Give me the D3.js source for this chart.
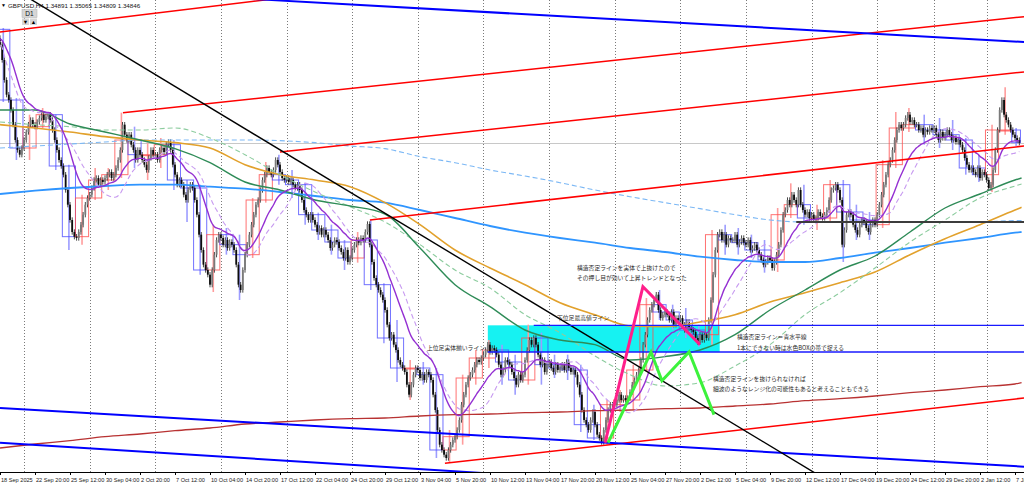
<!DOCTYPE html>
<html>
<head>
<meta charset="utf-8">
<script src="https://cdn.jsdelivr.net/npm/d3@7"></script>
<style>
  body { margin: 0; background: #fff; }
  svg { display: block; }
  text { font-family: "Liberation Sans", Arial, sans-serif; }
  .jp { font-family: "Noto Sans CJK JP", sans-serif; }
</style>
</head>
<body>
<div></div>
<script>
var outerWidth  = 1024;
var outerHeight = 486;
var plotBottom  = 472;
var barSpacing  = 2.1875;

// header of the chart window
var symbol  = "GBPUSD,H4";
var lastBar = ["1.34891", "1.35065", "1.34809", "1.34846"];
var bidPrice = 1.3485;
var firstOpen = 1.3655;

// trading days shown (H4 bars grouped by day)
var dayDates = [
  "2025-09-18","2025-09-19","2025-09-22","2025-09-23","2025-09-24","2025-09-25","2025-09-26","2025-09-29","2025-09-30",
  "2025-10-01","2025-10-02","2025-10-03","2025-10-06","2025-10-07","2025-10-08","2025-10-09","2025-10-10","2025-10-13",
  "2025-10-14","2025-10-15","2025-10-16","2025-10-17","2025-10-20","2025-10-21","2025-10-22","2025-10-23","2025-10-24",
  "2025-10-27","2025-10-28","2025-10-29","2025-10-30","2025-10-31",
  "2025-11-03","2025-11-04","2025-11-05","2025-11-06","2025-11-07","2025-11-10","2025-11-11","2025-11-12","2025-11-13",
  "2025-11-14","2025-11-17","2025-11-18","2025-11-19","2025-11-20","2025-11-21","2025-11-24","2025-11-25","2025-11-26",
  "2025-11-27","2025-11-28",
  "2025-12-01","2025-12-02","2025-12-03","2025-12-04","2025-12-05","2025-12-08","2025-12-09","2025-12-10","2025-12-11",
  "2025-12-12","2025-12-15","2025-12-16","2025-12-17","2025-12-18","2025-12-19","2025-12-22","2025-12-23","2025-12-24",
  "2025-12-26","2025-12-29","2025-12-30","2025-12-31",
  "2026-01-02","2026-01-05","2026-01-06","2026-01-07"
];

// H4 closes, one inner array per day
var closeSep = [
  [1.3642,1.3632,1.3609,1.3579,1.3557,1.3549],
  [1.3534,1.3512,1.3489,1.3474,1.3467,1.3477],
  [1.3489,1.3501,1.3512,1.3519,1.3512,1.3509],
  [1.3516,1.3522,1.3527,1.3519,1.3524,1.3527],
  [1.3519,1.3504,1.3489,1.3474,1.3459,1.3450],
  [1.3437,1.3414,1.3392,1.3369,1.3351,1.3344],
  [1.3342,1.3351,1.3362,1.3377,1.3392,1.3402],
  [1.3407,1.3417,1.3429,1.3432,1.3422,1.3429],
  [1.3426,1.3432,1.3437,1.3441,1.3432,1.3437]
];
var closeOct = [
  [1.3447,1.3459,1.3474,1.3512,1.3497,1.3489],
  [1.3497,1.3482,1.3474,1.3459,1.3474,1.3467],
  [1.3459,1.3452,1.3444,1.3462,1.3474,1.3467],
  [1.3467,1.3459,1.3474,1.3477,1.3471,1.3482],
  [1.3486,1.3474,1.3452,1.3437,1.3422,1.3429],
  [1.3422,1.3407,1.3399,1.3414,1.3422,1.3417],
  [1.3399,1.3377,1.3347,1.3324,1.3302,1.3294],
  [1.3287,1.3272,1.3294,1.3317,1.3339,1.3347],
  [1.3342,1.3332,1.3339,1.3327,1.3336,1.3332],
  [1.3324,1.3302,1.3272,1.3264,1.3294,1.3317],
  [1.3332,1.3347,1.3362,1.3377,1.3392,1.3399],
  [1.3414,1.3429,1.3437,1.3447,1.3441,1.3437],
  [1.3444,1.3459,1.3452,1.3441,1.3432,1.3429],
  [1.3432,1.3426,1.3429,1.3422,1.3417,1.3422],
  [1.3414,1.3399,1.3384,1.3377,1.3369,1.3377],
  [1.3369,1.3362,1.3351,1.3357,1.3347,1.3354],
  [1.3347,1.3339,1.3327,1.3332,1.3339,1.3336],
  [1.3327,1.3321,1.3312,1.3324,1.3306,1.3312],
  [1.3324,1.3332,1.3339,1.3335,1.3342,1.3339],
  [1.3351,1.3363,1.3332,1.3306,1.3282,1.3272],
  [1.3264,1.3257,1.3249,1.3234,1.3212,1.3192],
  [1.3197,1.3182,1.3174,1.3159,1.3152,1.3147],
  [1.3141,1.3122,1.3107,1.3122,1.3137,1.3147]
];
var closeNov = [
  [1.3144,1.3132,1.3137,1.3129,1.3141,1.3137],
  [1.3129,1.3107,1.3084,1.3054,1.3032,1.3024],
  [1.3017,1.3012,1.3024,1.3032,1.3039,1.3044],
  [1.3054,1.3069,1.3092,1.3107,1.3122,1.3132],
  [1.3137,1.3144,1.3152,1.3159,1.3156,1.3162],
  [1.3167,1.3174,1.3182,1.3171,1.3177,1.3174],
  [1.3167,1.3152,1.3137,1.3144,1.3159,1.3156],
  [1.3152,1.3141,1.3132,1.3122,1.3137,1.3129],
  [1.3137,1.3159,1.3174,1.3189,1.3182,1.3192],
  [1.3182,1.3167,1.3152,1.3159,1.3141,1.3152],
  [1.3156,1.3147,1.3141,1.3152,1.3144,1.3147],
  [1.3152,1.3144,1.3156,1.3147,1.3141,1.3144],
  [1.3137,1.3122,1.3107,1.3084,1.3069,1.3062],
  [1.3054,1.3069,1.3081,1.3062,1.3047,1.3042],
  [1.3036,1.3054,1.3069,1.3084,1.3092,1.3092],
  [1.3092,1.3099,1.3107,1.3099,1.3102,1.3099],
  [1.3102,1.3111,1.3122,1.3129,1.3137,1.3144],
  [1.3159,1.3182,1.3197,1.3219,1.3234,1.3242],
  [1.3249,1.3257,1.3234,1.3222,1.3227,1.3231],
  [1.3227,1.3219,1.3231,1.3212,1.3222,1.3219]
];
var closeDec = [
  [1.3222,1.3212,1.3204,1.3216,1.3207,1.3204],
  [1.3201,1.3192,1.3186,1.3197,1.3189,1.3197],
  [1.3192,1.3219,1.3249,1.3287,1.3324,1.3347],
  [1.3351,1.3339,1.3347,1.3332,1.3342,1.3339],
  [1.3339,1.3347,1.3332,1.3336,1.3342,1.3335],
  [1.3332,1.3339,1.3324,1.3327,1.3332,1.3324],
  [1.3317,1.3309,1.3302,1.3306,1.3312,1.3309],
  [1.3297,1.3306,1.3317,1.3332,1.3354,1.3377],
  [1.3384,1.3399,1.3392,1.3407,1.3399,1.3392],
  [1.3414,1.3392,1.3384,1.3377,1.3381,1.3372],
  [1.3377,1.3369,1.3372,1.3381,1.3375,1.3372],
  [1.3377,1.3384,1.3399,1.3414,1.3417,1.3422],
  [1.3414,1.3399,1.3332,1.3354,1.3377,1.3381],
  [1.3377,1.3362,1.3354,1.3347,1.3362,1.3369],
  [1.3366,1.3357,1.3351,1.3362,1.3369,1.3362],
  [1.3377,1.3392,1.3407,1.3422,1.3437,1.3452],
  [1.3459,1.3474,1.3489,1.3504,1.3512,1.3507],
  [1.3512,1.3522,1.3527,1.3516,1.3519,1.3512],
  [1.3512,1.3504,1.3507,1.3497,1.3504,1.3501,1.3507,1.3504],
  [1.3507,1.3497,1.3489,1.3501,1.3492,1.3497],
  [1.3504,1.3497,1.3489,1.3492,1.3486,1.3489],
  [1.3482,1.3474,1.3462,1.3452,1.3444,1.3447]
];
var closeJan = [
  [1.3441,1.3437,1.3447,1.3432,1.3441,1.3437],
  [1.3429,1.3417,1.3422,1.3444,1.3474,1.3504],
  [1.3534,1.3549,1.3527,1.3519,1.3512,1.3504],
  [1.3497,1.3492,1.3489,1.3485]
];

// daily high / low (daily candles drawn as boxes)
var dayHigh = [
  1.3657,1.3552,1.3527,1.3537,1.3527,1.3452,1.3407,1.3447,1.3447,
  1.3530,1.3509,1.3485,1.3492,1.3489,1.3429,1.3422,1.3362,1.3357,1.3347,1.3402,1.3456,1.3467,1.3444,1.3425,1.3380,1.3362,1.3339,1.3351,1.3369,1.3274,1.3219,1.3159,
  1.3156,1.3147,1.3054,1.3137,1.3174,1.3189,1.3182,1.3167,1.3212,1.3200,1.3167,1.3167,1.3152,1.3092,1.3099,1.3114,1.3152,1.3252,1.3264,1.3242,
  1.3237,1.3212,1.3354,1.3362,1.3357,1.3347,1.3339,1.3387,1.3424,1.3422,1.3392,1.3429,1.3429,1.3392,1.3381,1.3459,1.3531,1.3537,1.3527,1.3522,1.3519,1.3492,
  1.3467,1.3512,1.3568,1.3507
];
var dayLow = [
  1.3546,1.3459,1.3459,1.3507,1.3444,1.3324,1.3332,1.3399,1.3414,
  1.3432,1.3447,1.3429,1.3447,1.3414,1.3366,1.3287,1.3261,1.3317,1.3249,1.3312,1.3395,1.3422,1.3402,1.3362,1.3339,1.3317,1.3294,1.3305,1.3264,1.3184,1.3126,1.3099,
  1.3122,1.3012,1.3006,1.3032,1.3122,1.3147,1.3122,1.3107,1.3122,1.3122,1.3132,1.3129,1.3051,1.3039,1.3032,1.3081,1.3084,1.3141,1.3219,1.3204,
  1.3192,1.3179,1.3182,1.3317,1.3317,1.3312,1.3290,1.3291,1.3372,1.3362,1.3354,1.3366,1.3306,1.3339,1.3339,1.3357,1.3447,1.3501,1.3482,1.3477,1.3474,1.3437,
  1.3426,1.3411,1.3497,1.3480
];

// time axis: one label every 16 bars
var timeLabels = [
  "18 Sep 2025","22 Sep 20:00","25 Sep 12:00","30 Sep 04:00","2 Oct 20:00","7 Oct 12:00","10 Oct 04:00",
  "14 Oct 20:00","17 Oct 12:00","22 Oct 04:00","24 Oct 20:00","29 Oct 12:00","3 Nov 04:00","5 Nov 20:00",
  "10 Nov 12:00","13 Nov 04:00","17 Nov 20:00","20 Nov 12:00","25 Nov 04:00","27 Nov 20:00","2 Dec 12:00",
  "5 Dec 04:00","9 Dec 20:00","12 Dec 12:00","17 Dec 04:00","19 Dec 20:00","24 Dec 12:00","29 Dec 20:00",
  "2 Jan 12:00","7 Jan 04:00"
];

// slow moving averages, read at each time label and at the right edge
var maGreen = [1.3534,1.3534,1.3513,1.3501,1.3489,1.3476,1.3455,1.3426,1.3414,1.3399,1.3390,1.3378,1.3327,1.3272,1.3239,1.3204,1.3189,1.3182,1.3159,1.3164,1.3174,1.3197,1.3234,1.3264,1.3294,1.3315,1.3351,1.3387,1.3408,1.3429,1.3432];
var maGreenDash = [1.3516,1.3512,1.3509,1.3504,1.3504,1.3507,1.3492,1.3467,1.3437,1.3411,1.3389,1.3366,1.3332,1.3294,1.3267,1.3227,1.3200,1.3165,1.3137,1.3120,1.3125,1.3150,1.3182,1.3227,1.3260,1.3297,1.3336,1.3369,1.3402,1.3420,1.3423];
var maOrange = [1.3512,1.3507,1.3501,1.3494,1.3489,1.3485,1.3477,1.3452,1.3437,1.3429,1.3419,1.3395,1.3362,1.3324,1.3297,1.3272,1.3245,1.3227,1.3210,1.3209,1.3216,1.3227,1.3246,1.3260,1.3275,1.3291,1.3317,1.3341,1.3362,1.3384,1.3388];
var maBlue = [1.3408,1.3413,1.3417,1.3420,1.3422,1.3422,1.3419,1.3416,1.3411,1.3405,1.3399,1.3395,1.3384,1.3372,1.3360,1.3350,1.3342,1.3335,1.3327,1.3321,1.3314,1.3309,1.3306,1.3306,1.3312,1.3320,1.3327,1.3335,1.3342,1.3350,1.3351];
var maLightBlue = [1.3477,1.3480,1.3483,1.3486,1.3489,1.3489,1.3489,1.3489,1.3488,1.3485,1.3480,1.3476,1.3464,1.3455,1.3444,1.3435,1.3425,1.3414,1.3404,1.3395,1.3386,1.3377,1.3369,1.3366,1.3366,1.3366,1.3366,1.3366,1.3366,1.3368,1.3368];
var maDarkRed = [1.3027,1.3033,1.3038,1.3044,1.3048,1.3053,1.3057,1.3063,1.3066,1.3069,1.3071,1.3072,1.3075,1.3077,1.3078,1.3080,1.3081,1.3083,1.3084,1.3086,1.3087,1.3090,1.3093,1.3098,1.3101,1.3105,1.3110,1.3114,1.3119,1.3123,1.3125];

// drawn objects: [bar, price] anchors
var trendLines = [
  { a: [1, 1.3651],    b: [122, 1.3699],   color: "#ff0000", w: 1.5, ray: "both" },
  { a: [57.2, 1.3530], b: [469, 1.3674],   color: "#ff0000", w: 1.5, ray: "right" },
  { a: [129, 1.3471],  b: [469, 1.3591],   color: "#ff0000", w: 1.5, ray: "right" },
  { a: [170.1, 1.3369], b: [469, 1.3480],  color: "#ff0000", w: 1.5, ray: "right" },
  { a: [204.4, 1.3004], b: [469, 1.3102],  color: "#ff0000", w: 1.5, ray: "right" },
  { a: [124.4, 1.3699], b: [469, 1.3636],  color: "#0000ff", w: 2,   ray: "both" },
  { a: [1, 1.3087],    b: [469, 1.2999],   color: "#0000ff", w: 2,   ray: "both" },
  { a: [1, 1.3035],    b: [243.3, 1.2985], color: "#0000ff", w: 2,   ray: "both" },
  { a: [15.6, 1.3699], b: [371.3, 1.2994], color: "#000000", w: 1.4, ray: "both" }
];
var blackLevel = { price: 1.3366, fromBar: 365 };
var blueLevels = [ { price: 1.3211, fromBar: 245 }, { price: 1.3171, fromBar: 224 } ];
var cyanZone = { fromBar: 224, toBar: 330, top: 1.3211, bottom: 1.3171 };
var pinkWave  = [[277.6, 1.3035], [294.9, 1.3269], [321, 1.3182]];
var greenWave = [[279, 1.3035], [298.6, 1.3171], [303.6, 1.3128], [316, 1.3171], [327.4, 1.3077]];

var notes = [
  { x: 577, y: 270, t: "構造否定ラインを実体で上抜けたので" },
  { x: 577, y: 280, t: "その押し目が効いて上昇トレンドとなった" },
  { x: 557, y: 320, t: "下位足最高値ライン" },
  { x: 427, y: 350, t: "上位足実体揃いライン" },
  { x: 737, y: 339, t: "構造否定ライン＝青水平線" },
  { x: 737, y: 350, t: "1本にできない時は水色BOXの帯で捉える" },
  { x: 713, y: 381, t: "構造否定ラインを抜けられなければ" },
  { x: 713, y: 391, t: "細波のようなレンジ化の可能性もあると考えることもできる" }
];

// ---------------------------------------------------------------

var svg = d3.select("div").append("svg")
  .attr("width", outerWidth)
  .attr("height", outerHeight);

var xScale = d3.scaleLinear().domain([1, 1 + outerWidth / barSpacing]).range([0, outerWidth]);
var yScale = d3.scaleLinear().domain([1.3699, 1.3699 - 0.00015 * outerHeight]).range([0, outerHeight]);

svg.append("defs").append("clipPath").attr("id", "plot")
  .append("rect").attr("x", 0).attr("y", 0).attr("width", outerWidth).attr("height", plotBottom);

var g = svg.append("g").attr("clip-path", "url(#plot)");

// build bars and days
var days = [].concat(closeSep, closeOct, closeNov, closeDec, closeJan);
var bars = [], dayInfo = [];
var n = 0, prev = firstOpen;
days.forEach(function (cl, i) {
  var start = n, open = prev;
  cl.forEach(function (c) {
    bars.push({ i: n, o: prev, c: c });
    prev = c; n++;
  });
  dayInfo.push({ start: start, end: n - 1, o: open, c: prev, h: dayHigh[i], l: dayLow[i], date: dayDates[i] });
});

// weekly separators (Monday's first bar)
var mondays = dayInfo.filter(function (d) { return new Date(d.date + "T00:00:00Z").getUTCDay() === 1; });
g.selectAll("line.grid").data(mondays).enter().append("line")
  .attr("class", "grid")
  .attr("x1", function (d) { return Math.round(xScale(d.start)) + 0.5; })
  .attr("x2", function (d) { return Math.round(xScale(d.start)) + 0.5; })
  .attr("y1", 0).attr("y2", plotBottom)
  .attr("stroke", "#7a7a7a").attr("stroke-width", 1).attr("stroke-dasharray", "1,2");

// cyan zone
g.append("rect")
  .attr("x", xScale(cyanZone.fromBar))
  .attr("y", yScale(cyanZone.top))
  .attr("width", xScale(cyanZone.toBar) - xScale(cyanZone.fromBar))
  .attr("height", yScale(cyanZone.bottom) - yScale(cyanZone.top))
  .attr("fill", "#16f2f2");

// bid line
g.append("line")
  .attr("x1", 0).attr("x2", outerWidth)
  .attr("y1", Math.round(yScale(bidPrice)) + 0.5).attr("y2", Math.round(yScale(bidPrice)) + 0.5)
  .attr("stroke", "#c8c8c8").attr("stroke-width", 1);

// daily boxes
var dayG = g.append("g");
dayG.selectAll("line").data(dayInfo).enter().append("line")
  .attr("x1", function (d) { return (xScale(d.start) + xScale(d.end)) / 2; })
  .attr("x2", function (d) { return (xScale(d.start) + xScale(d.end)) / 2; })
  .attr("y1", function (d) { return yScale(d.h); })
  .attr("y2", function (d) { return yScale(d.l); })
  .attr("stroke", function (d) { return d.c >= d.o ? "#ff9c9c" : "#9c9cff"; })
  .attr("stroke-width", 1.6);
dayG.selectAll("rect").data(dayInfo).enter().append("rect")
  .attr("x", function (d) { return xScale(d.start) - barSpacing / 2; })
  .attr("y", function (d) { return yScale(Math.max(d.o, d.c)); })
  .attr("width", function (d) { return xScale(d.end) - xScale(d.start) + barSpacing; })
  .attr("height", function (d) { return Math.max(1, yScale(Math.min(d.o, d.c)) - yScale(Math.max(d.o, d.c))); })
  .attr("fill", "none")
  .attr("stroke", function (d) { return d.c >= d.o ? "#ff4d4d" : "#4d4dff"; })
  .attr("stroke-opacity", 0.8)
  .attr("stroke-width", 1);

// H4 candles
var wick = 0.0004;
var candleG = g.append("g");
candleG.selectAll("line").data(bars).enter().append("line")
  .attr("x1", function (d) { return xScale(d.i); })
  .attr("x2", function (d) { return xScale(d.i); })
  .attr("y1", function (d) { return yScale(Math.max(d.o, d.c) + wick); })
  .attr("y2", function (d) { return yScale(Math.min(d.o, d.c) - wick); })
  .attr("stroke", "#333").attr("stroke-width", 0.9);
candleG.selectAll("rect").data(bars).enter().append("rect")
  .attr("x", function (d) { return xScale(d.i) - 0.9; })
  .attr("y", function (d) { return yScale(Math.max(d.o, d.c)); })
  .attr("width", 1.8)
  .attr("height", function (d) { return Math.max(0.8, Math.abs(yScale(d.o) - yScale(d.c))); })
  .attr("fill", function (d) { return d.c >= d.o ? "#7a7a7a" : "#0d0d0d"; });

// fast averages from the H4 closes
var closes = bars.map(function (d) { return d.c; });
var ema = [];
var k = 2 / (20 + 1);
closes.forEach(function (c, i) { ema.push(i ? ema[i - 1] + k * (c - ema[i - 1]) : c); });
var sma = closes.map(function (c, i) {
  var from = Math.max(0, i - 23);
  return d3.mean(closes.slice(from, i + 1));
});

var line = d3.line()
  .x(function (d) { return xScale(d[0]); })
  .y(function (d) { return yScale(d[1]); })
  .curve(d3.curveMonotoneX);

var maBars = timeLabels.map(function (t, i) { return 16 * i + 1; }).concat([468]);
function maPts(arr) { return arr.map(function (v, i) { return [maBars[i], v]; }); }

var maSpecs = [
  { pts: maPts(maDarkRed),   color: "#b83232", w: 1.3, dash: null },
  { pts: maPts(maLightBlue), color: "#7cb8f5", w: 1.1, dash: "5,3" },
  { pts: maPts(maBlue),      color: "#2f95ff", w: 1.8, dash: null },
  { pts: maPts(maOrange),    color: "#e2a12c", w: 1.6, dash: null },
  { pts: maPts(maGreenDash), color: "#8ccc9e", w: 1.1, dash: "5,3" },
  { pts: maPts(maGreen),     color: "#2e8b57", w: 1.4, dash: null },
  { pts: bars.map(function (d, i) { return [d.i, sma[i]]; }), color: "#c79af0", w: 1.1, dash: "5,3" },
  { pts: bars.map(function (d, i) { return [d.i, ema[i]]; }), color: "#9430d2", w: 1.4, dash: null }
];
g.selectAll("path.ma").data(maSpecs).enter().append("path")
  .attr("class", "ma")
  .attr("d", function (d) { return line(d.pts); })
  .attr("fill", "none")
  .attr("stroke", function (d) { return d.color; })
  .attr("stroke-width", function (d) { return d.w; })
  .attr("stroke-dasharray", function (d) { return d.dash; });

// trend lines
var xMin = xScale.invert(0), xMax = xScale.invert(outerWidth);
function extend(t) {
  var s = (t.b[1] - t.a[1]) / (t.b[0] - t.a[0]);
  var x0 = t.ray === "both" ? xMin : t.a[0];
  return [[x0, t.a[1] + s * (x0 - t.a[0])], [xMax, t.a[1] + s * (xMax - t.a[0])]];
}
var straight = d3.line()
  .x(function (d) { return xScale(d[0]); })
  .y(function (d) { return yScale(d[1]); });
g.selectAll("path.trend").data(trendLines).enter().append("path")
  .attr("class", "trend")
  .attr("d", function (d) { return straight(extend(d)); })
  .attr("fill", "none")
  .attr("stroke", function (d) { return d.color; })
  .attr("stroke-width", function (d) { return d.w; });

// horizontal levels
g.selectAll("line.level").data(blueLevels).enter().append("line")
  .attr("class", "level")
  .attr("x1", function (d) { return xScale(d.fromBar); }).attr("x2", outerWidth)
  .attr("y1", function (d) { return yScale(d.price); }).attr("y2", function (d) { return yScale(d.price); })
  .attr("stroke", "#1a1aff").attr("stroke-width", 1.4);
g.append("line")
  .attr("x1", xScale(blackLevel.fromBar)).attr("x2", outerWidth)
  .attr("y1", yScale(blackLevel.price)).attr("y2", yScale(blackLevel.price))
  .attr("stroke", "#3c3c3c").attr("stroke-width", 2.2);

// wave sketches
g.append("path").attr("d", straight(pinkWave))
  .attr("fill", "none").attr("stroke", "#ff1f8a").attr("stroke-width", 3).attr("stroke-linejoin", "miter");
g.append("path").attr("d", straight(greenWave))
  .attr("fill", "none").attr("stroke", "#3cf23c").attr("stroke-width", 3).attr("stroke-linejoin", "miter");

// notes
svg.selectAll("text.note").data(notes).enter().append("text")
  .attr("class", "note jp")
  .attr("x", function (d) { return d.x; })
  .attr("y", function (d) { return d.y; })
  .attr("font-size", 5.8)
  .attr("fill", "#2a2a2a")
  .text(function (d) { return d.t; });

// time axis
var axisG = svg.append("g");
axisG.append("line")
  .attr("x1", 0).attr("x2", outerWidth)
  .attr("y1", plotBottom + 0.5).attr("y2", plotBottom + 0.5)
  .attr("stroke", "#000").attr("stroke-width", 1);
axisG.selectAll("line.tick").data(timeLabels).enter().append("line")
  .attr("class", "tick")
  .attr("x1", function (d, i) { return Math.round(xScale(16 * i + 1)) + 0.5; })
  .attr("x2", function (d, i) { return Math.round(xScale(16 * i + 1)) + 0.5; })
  .attr("y1", plotBottom).attr("y2", plotBottom + 3)
  .attr("stroke", "#000");
axisG.selectAll("text").data(timeLabels).enter().append("text")
  .attr("x", function (d, i) { return xScale(16 * i + 1) + 1; })
  .attr("y", plotBottom + 10)
  .attr("font-size", 5.6)
  .attr("fill", "#222")
  .text(function (d) { return d; });

// window header
svg.append("text").attr("x", 1).attr("y", 7).attr("font-size", 5).attr("fill", "#000").text("▼");
svg.append("text").attr("x", 8).attr("y", 7.5).attr("font-size", 6.2).attr("fill", "#111")
  .text(symbol + "  " + lastBar.join(" "));
var tf = svg.append("g");
tf.append("rect").attr("x", 22).attr("y", 9.5).attr("width", 15).attr("height", 8)
  .attr("fill", "#d6d6d6").attr("stroke", "#b0b0b0").attr("stroke-width", 0.5);
tf.append("text").attr("x", 29.5).attr("y", 16).attr("text-anchor", "middle")
  .attr("font-size", 6.5).attr("fill", "#111").text("D1");
tf.append("rect").attr("x", 22).attr("y", 18.5).attr("width", 7).attr("height", 6.5).attr("fill", "#d6d6d6");
tf.append("rect").attr("x", 30).attr("y", 18.5).attr("width", 7).attr("height", 6.5).attr("fill", "#d6d6d6");
tf.append("text").attr("x", 25.5).attr("y", 24).attr("text-anchor", "middle").attr("font-size", 5.5).text("▼");
tf.append("text").attr("x", 33.5).attr("y", 24).attr("text-anchor", "middle").attr("font-size", 5.5).text("▲");
</script>
</body>
</html>
